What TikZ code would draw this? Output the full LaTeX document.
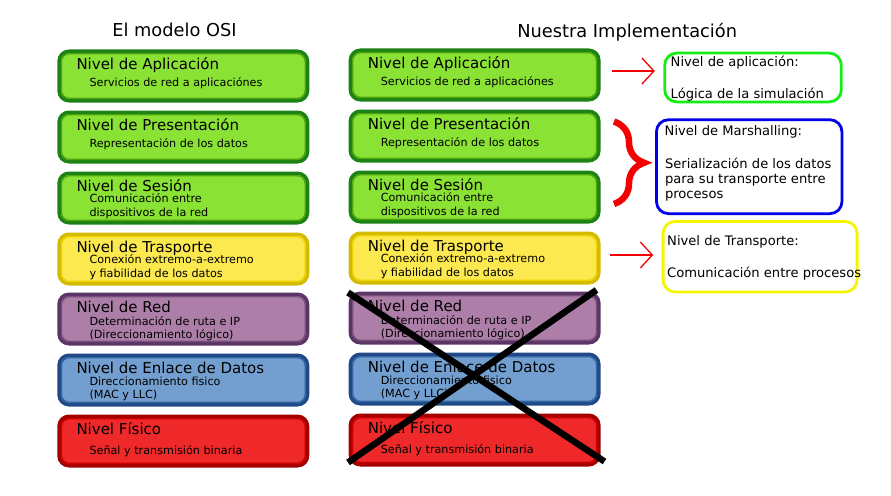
\documentclass[tikz,border=0pt]{standalone}
\usepackage{fontspec}
\setmainfont{DejaVu Sans}
\usetikzlibrary{arrows.meta,decorations.pathreplacing}

% layer colours: fill, outer edge, inner rim
\definecolor{appfill}{RGB}{138,226,52}
\definecolor{appedge}{RGB}{28,130,22}
\definecolor{apprim}{RGB}{78,165,12}
\definecolor{trafill}{RGB}{252,233,79}
\definecolor{traedge}{RGB}{212,186,0}
\definecolor{trarim}{RGB}{237,212,0}
\definecolor{netfill}{RGB}{173,127,168}
\definecolor{netedge}{RGB}{92,53,102}
\definecolor{netrim}{RGB}{117,80,123}
\definecolor{lnkfill}{RGB}{114,159,207}
\definecolor{lnkedge}{RGB}{32,74,135}
\definecolor{lnkrim}{RGB}{52,101,164}
\definecolor{phyfill}{RGB}{239,41,41}
\definecolor{phyedge}{RGB}{164,0,0}
\definecolor{phyrim}{RGB}{204,0,0}
% note colours
\definecolor{notegreen}{RGB}{20,238,20}
\definecolor{noteblue}{RGB}{0,0,235}
\definecolor{noteyellow}{RGB}{245,245,0}
\definecolor{markred}{RGB}{245,0,0}

\tikzset{
  layerbox/.style={rectangle, minimum width=248.5pt, minimum height=49.5pt,
    line width=3.5pt, rounded corners=10pt, inner sep=0pt},
  layerrim/.style={rectangle, minimum width=243.7pt, minimum height=44.7pt,
    line width=1.3pt, rounded corners=8pt, inner sep=0pt},
  layertitle/.style={anchor=base west, inner sep=0pt, font=\fontsize{15}{17}\selectfont},
  layersub/.style={anchor=base west, inner sep=0pt, font=\fontsize{11.2}{13}\selectfont},
  heading/.style={anchor=base, inner sep=0pt, font=\fontsize{17.8}{20}\selectfont},
  notebox/.style={rectangle, line width=2.8pt, rounded corners=12pt, inner sep=0pt},
  notetext/.style={anchor=base west, inner sep=0pt, font=\fontsize{13.1}{15}\selectfont},
  pointer/.style={draw=markred, line width=1.3pt, shorten >=8.5pt,
    -{Straight Barb[length=12pt, width=26pt, line width=1.3pt]}},
  bracket/.style={draw=markred, line width=6.5pt,
    decorate, decoration={brace, amplitude=30pt}},
  strike/.style={draw=black, line width=6.5pt},
}

% one OSI layer: name, centre x, outer top y, colour key, title, sub line 1, sub line 2, baseline offset of sub line 1
\newcommand\osilayer[8]{%
  \node[layerbox, fill=#4fill, draw=#4edge] (#1) at ({#2},{#3+26.5}) {};
  \node[layerrim, draw=#4rim] (#1rim) at (#1.center) {};
  \node[layertitle] (#1title) at ([xshift=19pt, yshift=-20pt]#1.north west) {#5};
  \node[layersub] (#1subA) at ([xshift=32pt, yshift={-(#8pt)-2.5pt}]#1.north west) {#6};
  \node[layersub] (#1subB) at ([xshift=32pt, yshift={-(#8pt)-16pt}]#1.north west) {#7};
}

\begin{document}
\begin{tikzpicture}[x=1pt, y=-1pt]
  \fill[white] (0,0) rectangle (891,495);
  \useasboundingbox (0,0) rectangle (891,495);

  % column headings
  \node[heading] (h1) at (174.5,36.7) {El modelo OSI};
  \node[heading] (h2) at (627.2,37.2) {Nuestra Implementación};

  % reference OSI stack
  \osilayer{l1}{183.3}{49.5}{app}{Nivel de Aplicación}{Servicios de red a aplicaciónes}{}{34.3}
  \osilayer{l2}{183.3}{110.5}{app}{Nivel de Presentación}{Representación de los datos}{}{34.3}
  \osilayer{l3}{183.3}{171.5}{app}{Nivel de Sesión}{Comunicación entre}{dispositivos de la red}{28.8}
  \osilayer{l4}{183.3}{232.5}{tra}{Nivel de Trasporte}{Conexión extremo-a-extremo}{y fiabilidad de los datos}{28.9}
  \osilayer{l5}{183.3}{292.5}{net}{Nivel de Red}{Determinación de ruta e IP}{(Direccionamiento lógico)}{30.3}
  \osilayer{l6}{183.3}{353.5}{lnk}{Nivel de Enlace de Datos}{Direccionamiento fisico}{(MAC y LLC)}{29.3}
  \osilayer{l7}{183.3}{414.5}{phy}{Nivel Físico}{Señal y transmisión binaria}{}{37.3}

  % implemented stack
  \osilayer{r1}{474.6}{48.5}{app}{Nivel de Aplicación}{Servicios de red a aplicaciónes}{}{34.3}
  \osilayer{r2}{474.6}{109.5}{app}{Nivel de Presentación}{Representación de los datos}{}{34.3}
  \osilayer{r3}{474.6}{170.5}{app}{Nivel de Sesión}{Comunicación entre}{dispositivos de la red}{28.8}
  \osilayer{r4}{474.6}{231.5}{tra}{Nivel de Trasporte}{Conexión extremo-a-extremo}{y fiabilidad de los datos}{28.9}
  \osilayer{r5}{474.6}{291.5}{net}{Nivel de Red}{Determinación de ruta e IP}{(Direccionamiento lógico)}{30.3}
  \osilayer{r6}{474.6}{352.5}{lnk}{Nivel de Enlace de Datos}{Direccionamiento fisico}{(MAC y LLC)}{29.3}
  \osilayer{r7}{474.6}{413.5}{phy}{Nivel Físico}{Señal y transmisión binaria}{}{37.3}

  % lower layers not implemented
  \coordinate (xa) at (348,292.5);
  \coordinate (xb) at (604.5,461.5);
  \coordinate (xc) at (596.5,290);
  \coordinate (xd) at (348,462.5);
  \draw[strike] (xa) -- (xb);
  \draw[strike] (xc) -- (xd);

  % notes
  \node[notebox, draw=notegreen, minimum width=176.6pt, minimum height=48.8pt] (n1) at (753,77.5) {};
  \node[notetext] (n1a) at (670.5,66.7) {Nivel de aplicación:};
  \node[notetext] (n1b) at (670.5,98.3) {Lógica de la simulación};

  \node[notebox, draw=noteblue, minimum width=185.5pt, minimum height=93.9pt] (n2) at (749.2,166.7) {};
  \node[notetext] (n2a) at (664.5,135) {Nivel de Marshalling:};
  \node[notetext] (n2b) at (664.8,168.3) {Serialización de los datos};
  \node[notetext] (n2c) at (664.8,183.6) {para su transporte entre};
  \node[notetext] (n2d) at (664.8,198.8) {procesos};

  \node[notebox, draw=noteyellow, minimum width=194pt, minimum height=70.5pt] (n3) at (760.1,256.7) {};
  \node[notetext] (n3a) at (667,245.7) {Nivel de Transporte:};
  \node[notetext] (n3b) at (667,277.3) {Comunicación entre procesos};

  % pointers from layers to notes
  \coordinate (a1) at ([xshift=11.7pt, yshift=4pt]r1.east);
  \draw[pointer] (a1) -- (a1 -| n1.west);
  \coordinate (a3) at ([xshift=9.7pt, yshift=3pt]r4.east);
  \draw[pointer] (a3) -- (a3 -| n3.west);

  % brace grouping presentation and session
  \coordinate (b1) at (614,121.5);
  \coordinate (b2) at (614,204);
  \draw[bracket] (b1) -- (b2);
\end{tikzpicture}
\end{document}
